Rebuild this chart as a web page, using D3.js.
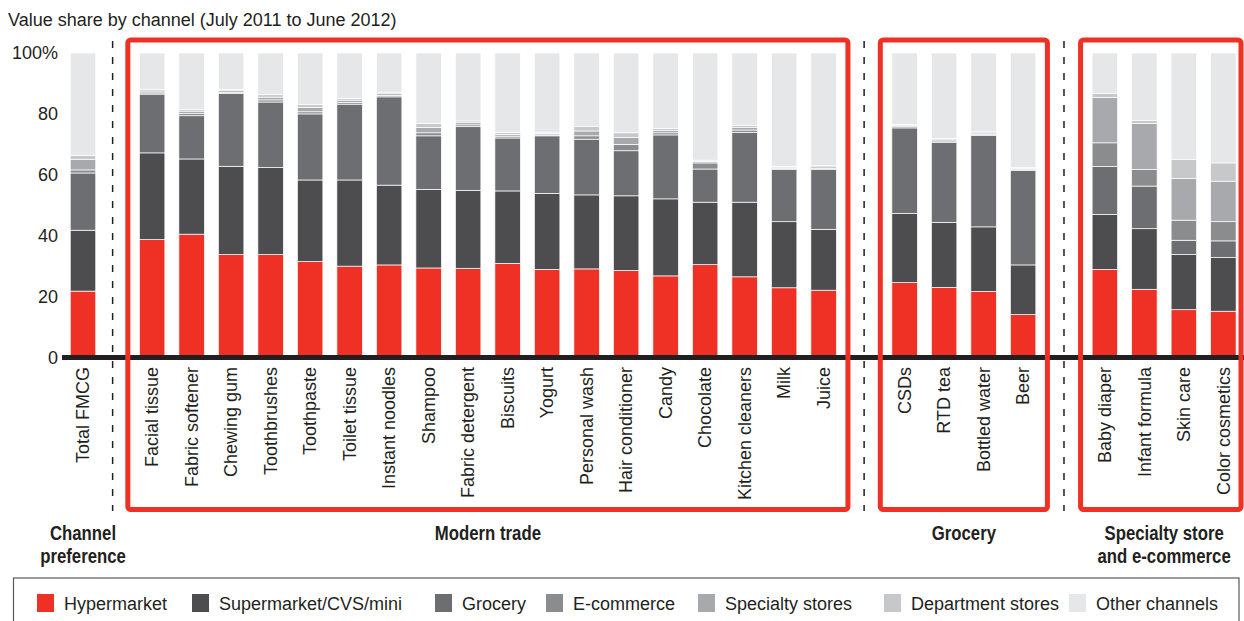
<!DOCTYPE html>
<html>
<head>
<meta charset="utf-8">
<script src="https://cdn.jsdelivr.net/npm/d3@7"></script>
<style>
  body { margin: 0; background: #fff; }
  svg { display: block; }
</style>
</head>
<body>
<script>
// Value share by channel, July 2011 to June 2012 (%)
const categories = ["Total FMCG", "Facial tissue", "Fabric softener", "Chewing gum", "Toothbrushes",
  "Toothpaste", "Toilet tissue", "Instant noodles", "Shampoo", "Fabric detergent", "Biscuits",
  "Yogurt", "Personal wash", "Hair conditioner", "Candy", "Chocolate", "Kitchen cleaners", "Milk",
  "Juice", "CSDs", "RTD tea", "Bottled water", "Beer", "Baby diaper", "Infant formula",
  "Skin care", "Color cosmetics"];

const groupLabels = [["Channel", "preference"], ["Modern trade"], ["Grocery"], ["Specialty store", "and e-commerce"]];
const groupSizes = [1, 18, 4, 4];

const channels = ["Hypermarket", "Supermarket/CVS/mini", "Grocery", "E-commerce",
  "Specialty stores", "Department stores", "Other channels"];

const hypermarket = [21.8, 38.7, 40.5, 33.8, 33.8, 31.5, 30.0, 30.4, 29.4, 29.3, 30.9, 28.9, 29.1, 28.6, 26.8, 30.5, 26.5, 22.9, 22.1, 24.6, 23.0, 21.7, 14.1, 28.9, 22.4, 15.7, 15.2];
const supermarket = [20.0, 28.5, 24.7, 29.0, 28.6, 26.8, 28.3, 26.2, 25.8, 25.6, 23.8, 25.0, 24.3, 24.5, 25.3, 20.5, 24.5, 21.7, 20.0, 22.7, 21.4, 21.2, 16.3, 18.1, 19.9, 18.1, 17.6];
const grocery = [18.8, 19.3, 14.2, 23.9, 21.5, 21.7, 24.9, 29.0, 17.6, 20.9, 17.4, 18.9, 18.3, 14.8, 21.0, 10.9, 22.9, 17.1, 19.6, 28.1, 26.3, 30.0, 31.0, 15.7, 14.0, 4.7, 5.5];
const ecommerce = [1.0, 0.4, 0.7, 0.4, 0.7, 0.7, 0.6, 0.5, 1.0, 0.6, 0.6, 0.3, 1.1, 2.1, 0.7, 2.0, 0.8, 0.4, 0.4, 0.4, 0.4, 0.4, 0.3, 7.8, 5.4, 6.6, 6.3];
const specialty = [3.5, 0.6, 0.8, 0.5, 0.9, 1.4, 0.7, 0.5, 1.8, 0.7, 0.6, 0.4, 1.6, 2.3, 0.7, 0.5, 0.8, 0.4, 0.5, 0.4, 0.4, 0.4, 0.4, 14.9, 15.2, 13.7, 13.3];
const department = [1.3, 0.5, 0.6, 0.4, 0.8, 1.0, 0.6, 0.5, 1.3, 0.6, 0.6, 0.3, 1.4, 1.5, 0.7, 0.4, 0.7, 0.3, 0.4, 0.3, 0.4, 0.4, 0.3, 1.3, 1.0, 6.3, 6.0];
const otherChannels = [33.6, 12.0, 18.5, 12.0, 13.7, 16.9, 14.9, 12.9, 23.1, 22.3, 26.1, 26.2, 24.2, 26.2, 24.8, 35.2, 23.8, 37.2, 37.0, 23.5, 28.1, 25.9, 37.6, 13.3, 22.1, 34.9, 36.1];

const yTicks = [0, 20, 40, 60, 80, 100];

const colors = ["#EE3124", "#4D4D4F", "#6D6E71", "#8A8C8E", "#A7A9AC", "#C7C8CA", "#E6E7E8"];
const ink = "#231F20";
const red = "#EE3124";

const W = 1244, H = 621;
const svg = d3.select("body").append("svg").attr("width", W).attr("height", H);

const rows = categories.map((c, i) => ({
  cat: c,
  [channels[0]]: hypermarket[i],
  [channels[1]]: supermarket[i],
  [channels[2]]: grocery[i],
  [channels[3]]: ecommerce[i],
  [channels[4]]: specialty[i],
  [channels[5]]: department[i],
  [channels[6]]: otherChannels[i]
}));

// slot index of each category; groups separated by extra gaps
const groupStart = [0, 1.75, 20.8, 25.87];
const slot = [];
groupSizes.forEach((n, g) => { for (let k = 0; k < n; k++) slot.push(groupStart[g] + k); });

const x = d3.scaleLinear().domain([0, 1]).range([83, 122.5]);
const y = d3.scaleLinear().domain([0, 100]).range([357.5, 53]);
const color = d3.scaleOrdinal().domain(channels).range(colors);
const barW = 25.5;

// title
svg.append("text").attr("x", 8).attr("y", 26)
  .attr("font-family", "Liberation Sans, Arial, sans-serif").attr("font-size", 18).attr("fill", ink)
  .text("Value share by channel (July 2011 to June 2012)");

// stacked bars
const series = d3.stack().keys(channels)(rows);
svg.append("g").selectAll("g").data(series).join("g")
  .attr("fill", d => color(d.key))
  .selectAll("rect").data(d => d.map((v, i) => ({ v, i }))).join("rect")
  .attr("x", d => x(slot[d.i]) - barW / 2)
  .attr("width", barW)
  .attr("y", d => y(d.v[1]))
  .attr("height", d => Math.max(0, y(d.v[0]) - y(d.v[1])))
  .attr("stroke", "#fff").attr("stroke-width", 0.7);

// y axis labels
const yAxis = d3.axisLeft(y).tickValues(yTicks).tickSize(0).tickPadding(0)
  .tickFormat(d => d === 100 ? "100%" : d);
const ya = svg.append("g").attr("transform", "translate(58,0)").call(yAxis);
ya.select(".domain").remove();
ya.selectAll("text").attr("font-family", "Liberation Sans, Arial, sans-serif")
  .attr("font-size", 18).attr("fill", ink);

// baseline
svg.append("line").attr("x1", 62).attr("x2", W).attr("y1", y(0)).attr("y2", y(0))
  .attr("stroke", ink).attr("stroke-width", 5);

// category labels
svg.append("g").selectAll("text").data(categories).join("text")
  .attr("transform", (d, i) => `translate(${x(slot[i])},367) rotate(-90)`)
  .attr("text-anchor", "end").attr("dy", "0.35em")
  .attr("font-family", "Liberation Sans, Arial, sans-serif").attr("font-size", 18).attr("fill", ink)
  .text(d => d);

// group frames and separators
const firstIdx = [], lastIdx = [];
let acc = 0;
groupSizes.forEach(n => { firstIdx.push(acc); lastIdx.push(acc + n - 1); acc += n; });
const pad = 24.3;
const boxes = [1, 2, 3].map(g => ({
  g,
  left: x(slot[firstIdx[g]]) - pad,
  right: Math.min(x(slot[lastIdx[g]]) + pad, W - 3)
}));
svg.append("g").selectAll("rect").data(boxes).join("rect")
  .attr("x", d => d.left).attr("y", 40)
  .attr("width", d => d.right - d.left).attr("height", 469.5)
  .attr("rx", 3)
  .attr("fill", "none").attr("stroke", red).attr("stroke-width", 5);

const sepX = [
  x(slot[firstIdx[1]] - 1),
  (boxes[0].right + boxes[1].left) / 2,
  (boxes[1].right + boxes[2].left) / 2
];
svg.append("g").selectAll("line").data(sepX).join("line")
  .attr("x1", d => d).attr("x2", d => d).attr("y1", 41).attr("y2", 511)
  .attr("stroke", ink).attr("stroke-width", 1.5).attr("stroke-dasharray", "7,9");

// group labels, set in a condensed bold face
const groupCenters = [
  x(slot[0]),
  (boxes[0].left + boxes[0].right) / 2,
  (boxes[1].left + boxes[1].right) / 2,
  (x(slot[firstIdx[3]]) + x(slot[lastIdx[3]])) / 2
];
const squeeze = 0.86;
const gl = svg.append("g").selectAll("text").data(groupLabels).join("text")
  .attr("transform", (d, i) => `translate(${groupCenters[i]},540) scale(${squeeze},1)`)
  .attr("text-anchor", "middle")
  .attr("font-family", "Liberation Sans, Arial, sans-serif")
  .attr("font-weight", "bold").attr("font-size", 19.5).attr("fill", ink);
gl.selectAll("tspan").data(d => d).join("tspan")
  .attr("x", 0).attr("dy", (d, k) => k === 0 ? 0 : 23).text(d => d);

// legend
svg.append("rect").attr("x", 13.5).attr("y", 578).attr("width", 1225.5).attr("height", 60)
  .attr("fill", "none").attr("stroke", "#58595B").attr("stroke-width", 1.2);
const legendX = [37, 192, 435, 546, 698, 884, 1069];
const lg = svg.append("g").selectAll("g").data(channels).join("g")
  .attr("transform", (d, i) => `translate(${legendX[i]},594)`);
lg.append("rect").attr("width", 17).attr("height", 18).attr("fill", d => color(d));
lg.append("text").attr("x", 27).attr("y", 15.5)
  .attr("font-family", "Liberation Sans, Arial, sans-serif").attr("font-size", 18).attr("fill", ink)
  .text(d => d);
</script>
</body>
</html>
